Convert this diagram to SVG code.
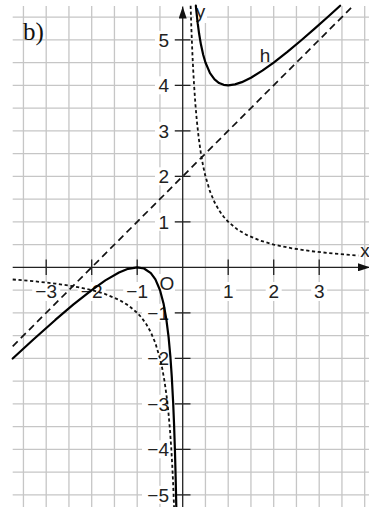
<svg xmlns="http://www.w3.org/2000/svg" width="369" height="507" viewBox="0 0 369 507">
<defs>
<style>
.grid{fill:none;stroke:#c6c6c6;stroke-width:1.3}
.axis{fill:none;stroke:#222;stroke-width:1.3}
.tick{fill:none;stroke:#222;stroke-width:1.3}
.bg{fill:#fff}
.num{font-family:"Liberation Sans",Arial,sans-serif;font-size:19px;fill:#222}
.ylab{text-anchor:end}
.xlab{text-anchor:middle}
.curve{fill:none;stroke:#000;stroke-width:2.2;stroke-linejoin:round;stroke-linecap:round}
.dotted{fill:none;stroke:#111;stroke-width:1.8;stroke-dasharray:3.2 2.6;stroke-linejoin:round}
.dashed{fill:none;stroke:#111;stroke-width:1.7;stroke-dasharray:7 4.5}
.title{font-family:"Liberation Serif","Times New Roman",serif;font-size:25px;fill:#111}
</style>
<marker id="arrow" viewBox="0 0 12 8" refX="12" refY="4" markerWidth="12" markerHeight="8" markerUnits="userSpaceOnUse" orient="auto">
<path d="M0,0 L12,4 L0,8 Z" fill="#111"/>
</marker>
</defs>
<rect width="369" height="507" fill="#fff"/>
<g id="grid">
<path class="grid" d="M23.45,6V507M46.2,6V507M68.95,6V507M91.7,6V507M114.45,6V507M137.2,6V507M159.95,6V507M205.45,6V507M228.2,6V507M250.95,6V507M273.7,6V507M296.45,6V507M319.2,6V507M341.95,6V507M364.7,6V507
M12.7,17.05H369M12.7,39.8H369M12.7,62.55H369M12.7,85.3H369M12.7,108.05H369M12.7,130.8H369M12.7,153.55H369M12.7,176.3H369M12.7,199.05H369M12.7,221.8H369M12.7,244.55H369M12.7,290.05H369M12.7,312.8H369M12.7,335.55H369M12.7,358.3H369M12.7,381.05H369M12.7,403.8H369M12.7,426.55H369M12.7,449.3H369M12.7,472.05H369M12.7,494.8H369"/>
</g>
<g id="label-backgrounds">
<rect class="bg" x="155" y="30.8" width="19" height="18"/>
<rect class="bg" x="155" y="76.3" width="19" height="18"/>
<rect class="bg" x="155" y="121.8" width="19" height="18"/>
<rect class="bg" x="155" y="167.3" width="19" height="18"/>
<rect class="bg" x="155" y="212.8" width="19" height="18"/>
<rect class="bg" x="142" y="303.8" width="32" height="18"/>
<rect class="bg" x="142" y="349.3" width="32" height="18"/>
<rect class="bg" x="142" y="394.8" width="32" height="18"/>
<rect class="bg" x="142" y="440.3" width="32" height="18"/>
<rect class="bg" x="142" y="485.8" width="32" height="18"/>
<rect class="bg" x="32.2" y="282" width="28" height="19"/>
<rect class="bg" x="77.7" y="282" width="28" height="19"/>
<rect class="bg" x="123.2" y="282" width="28" height="19"/>
<rect class="bg" x="220.2" y="282" width="16" height="19"/>
<rect class="bg" x="265.7" y="282" width="16" height="19"/>
<rect class="bg" x="311.2" y="282" width="16" height="19"/>
<rect class="bg" x="159" y="274" width="16" height="18"/>
<rect class="bg" x="194" y="5" width="13" height="18"/>
</g>
<g id="labels">
<text class="title" x="23" y="39.5">b)</text>
<text class="num ylab" x="169" y="46.6">5</text>
<text class="num ylab" x="169" y="92.1">4</text>
<text class="num ylab" x="169" y="137.6">3</text>
<text class="num ylab" x="169" y="183.1">2</text>
<text class="num ylab" x="169" y="228.6">1</text>
<text class="num ylab" x="169" y="319.6">−1</text>
<text class="num ylab" x="169" y="365.1">−2</text>
<text class="num ylab" x="169" y="410.6">−3</text>
<text class="num ylab" x="169" y="456.1">−4</text>
<text class="num ylab" x="169" y="501.6">−5</text>
<text class="num xlab" x="46.2" y="298">−3</text>
<text class="num xlab" x="91.7" y="298">−2</text>
<text class="num xlab" x="137.2" y="298">−1</text>
<text class="num xlab" x="228.2" y="298">1</text>
<text class="num xlab" x="273.7" y="298">2</text>
<text class="num xlab" x="319.2" y="298">3</text>
<text class="num xlab" x="167" y="290">O</text>
<text class="num xlab" x="200.5" y="18">y</text>
<text class="num xlab" x="365" y="257">x</text>
<text class="num xlab" x="265" y="61.7">h</text>
</g>
<g id="axes">
<path class="axis" d="M12.7,267.3H370" marker-end="url(#arrow)"/>
<path class="axis" d="M182.7,507V6.5" marker-end="url(#arrow)"/>
<path class="tick" d="M46.2,259.5V275M91.7,259.5V275M137.2,259.5V275M228.2,259.5V275M273.7,259.5V275M319.2,259.5V275
M175,39.8H190.5M175,85.3H190.5M175,130.8H190.5M175,176.3H190.5M175,221.8H190.5M175,312.8H190.5M175,358.3H190.5M175,403.8H190.5M175,449.3H190.5M175,494.8H190.5"/>
</g>
<g id="connectors">
<path id="asymptote" class="dashed" d="M12.7,346.3L353.3,5.7"/>
<path id="reciprocal-right" class="dotted" d="M190.62,5.8L191.35,27.83L192.26,50.63L193.17,69.47L194.08,85.3L195.44,104.8L196.81,120.53L198.63,137.3L200.9,153.55L203.18,166.19L205.45,176.3L210,191.47L214.55,202.3L219.1,210.43L223.65,216.74L228.2,221.8L237.3,229.38L246.4,234.8L260.05,240.54L273.7,244.55L291.9,248.34L310.1,251.05L332.85,253.51L358.33,255.51"/>
<path id="reciprocal-left" class="dotted" d="M12.7,279.48L32.55,281.09L55.3,283.55L73.5,286.26L91.7,290.05L105.35,294.06L119,299.8L128.1,305.22L137.2,312.8L141.75,317.86L146.3,324.18L150.85,332.3L155.4,343.13L159.95,358.3L162.22,368.41L164.5,381.05L166.77,397.3L168.59,414.07L169.96,429.8L171.33,449.3L172.24,465.13L173.15,483.97L174.1,508"/>
<path id="h-right" class="curve" d="M195.85,5.7L196.35,11L197.72,23.41L199.08,33.53L200.9,44.35L203.18,54.71L205.45,62.55L210,73.17L214.55,79.45L219.1,83.02L223.65,84.8L228.2,85.3L235.03,84.41L241.85,82.15L250.95,77.72L262.33,70.68L273.7,62.55L287.35,51.87L301,40.5L314.65,28.66L328.3,16.48L340.13,5.7"/>
<path id="h-left" class="curve" d="M12.7,358.47L32.55,340.24L55.3,319.95L73.5,304.46L91.7,290.05L105.35,280.41L119,272.5L128.1,268.82L137.2,267.3L144.03,268.5L150.85,273.15L155.4,279.43L159.95,290.05L163.59,303.75L166.32,319.07L168.59,337.18L170.42,357.1L171.78,376.8L173.15,402.52L174.06,424.42L174.97,451.68L175.65,476.9L176.33,507.67"/>
</g>
</svg>
